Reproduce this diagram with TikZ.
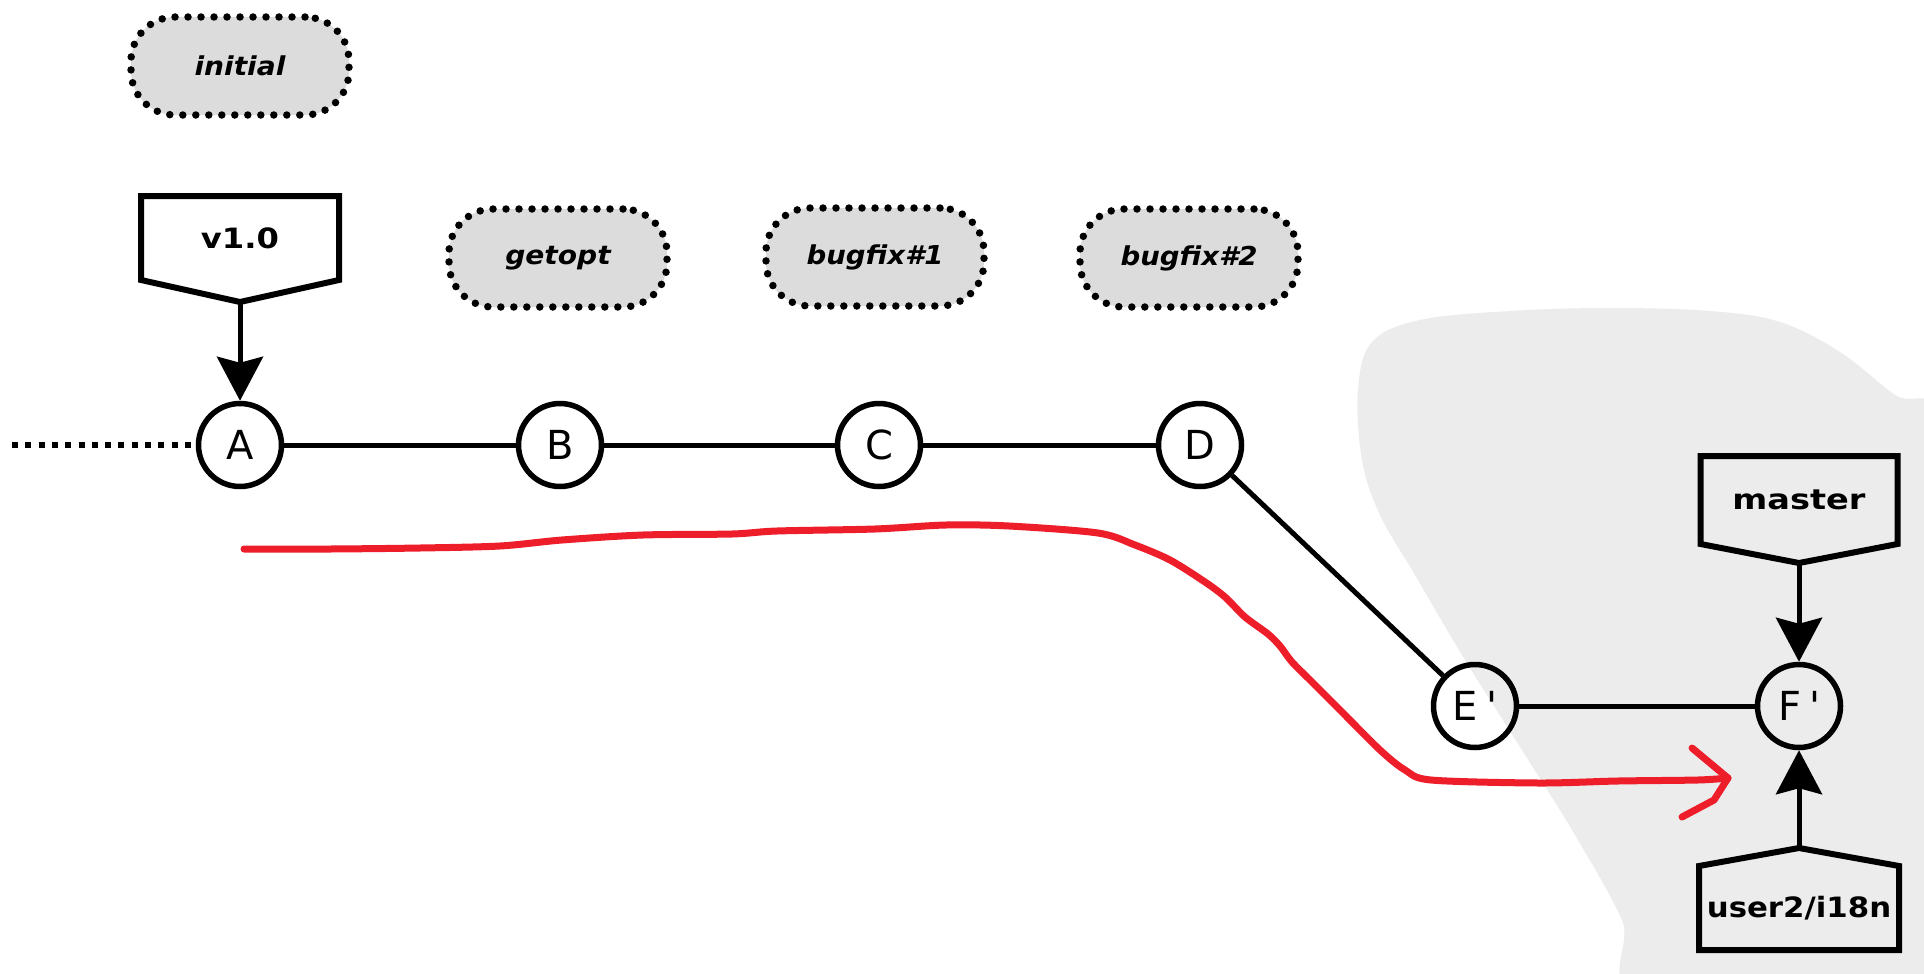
\documentclass[tikz,border=0pt]{standalone}
\usepackage{fontspec}
\usepackage{graphicx}
\usetikzlibrary{arrows.meta,calc}
\newfontfamily\djv{DejaVu Sans}
\definecolor{blobgray}{HTML}{ECECEC}
\definecolor{boxgray}{HTML}{DCDCDC}
\definecolor{penred}{HTML}{EE1D2A}
\tikzset{
 commit/.style={circle, draw, line width=5.5pt, minimum size=83pt, inner sep=0pt, font=\djv\fontsize{40}{48}\selectfont},
 conn/.style={line width=5pt},
 dotline/.style={line width=6.5pt, dash pattern=on 6pt off 7.3pt},
 labelbox/.style={draw, line width=7.5pt, dash pattern=on 0pt off 13pt, line cap=round, fill=boxgray, rounded corners=44pt, minimum width=218pt, minimum height=98pt, inner sep=0pt, font=\djv\bfseries\itshape\fontsize{26}{30}\selectfont},
 tagtext/.style={inner sep=0pt, outer sep=0pt, font=\djv\bfseries\fontsize{28}{32}\selectfont},
 tagline/.style={line width=6pt, line join=miter},
 tagarrow/.style={line width=5pt, -{Stealth[length=44pt,width=46pt,inset=6pt]}},
 penline/.style={penred, line width=7pt, line cap=round, line join=round},
}
\begin{document}
\begin{tikzpicture}[x=1pt,y=-1pt]
\useasboundingbox (0,0) rectangle (1924,974);
\fill[white] (0,0) rectangle (1924,974);
\begin{scope}
\clip (0,0) rectangle (1924,974);
\fill[blobgray] plot[smooth cycle, tension=0.6] coordinates {(1358,390) (1372,342) (1420,320) (1510,311) (1610,308) (1710,311) (1780,322) (1840,352) (1895,395) (1950,430) (1960,700) (1960,1000) (1650,1000) (1622,920) (1575,835) (1522,750) (1465,660) (1415,575) (1380,515) (1362,460)};
\end{scope}

% label boxes
\node[labelbox] (initial) at (240,66) {\scalebox{1.08}[1]{initial}};
\node[labelbox] (getopt) at (558,258) {\scalebox{1.08}[1]{getopt}};
\node[labelbox] (bug1) at (875,257) {\scalebox{1.06}[1]{bugfix\#1}};
\node[labelbox] (bug2) at (1189,258) {\scalebox{1.06}[1]{bugfix\#2}};

% commits
\node[commit] (A) at (240,445) {A};
\node[commit] (B) at (560,445) {B};
\node[commit] (C) at (879,445) {C};
\node[commit] (D) at (1200,445) {D};
\node[commit] (Ep) at (1475,706) {E\hspace{8pt}'};
\node[commit] (Fp) at (1799,706) {F\hspace{8pt}'};

\coordinate (start) at (12,445);
\draw[dotline] (start) -- (A);
\draw[conn] (A) -- (B);
\draw[conn] (B) -- (C);
\draw[conn] (C) -- (D);
\draw[conn] (D) -- (Ep);
\draw[conn] (Ep) -- (Fp);

% tags
\node[tagtext, minimum width=198pt, minimum height=84pt] (v10) at (240,238) {\scalebox{1.15}[1]{v1.0}};
\draw[tagline] (v10.north west) -- (v10.north east) -- (v10.south east) -- ($(v10.south)+(0,22)$) coordinate (v10p) -- (v10.south west) -- cycle;
\draw[tagarrow] (v10p) -- (A);

\node[tagtext, minimum width=197pt, minimum height=88pt] (master) at (1799,500) {\scalebox{1.2}[1]{master}};
\draw[tagline] (master.north west) -- (master.north east) -- (master.south east) -- ($(master.south)+(0,19)$) coordinate (mp) -- (master.south west) -- cycle;
\draw[tagarrow] (mp) -- (Fp);

\node[tagtext, minimum width=200pt, minimum height=84pt] (u2) at (1799,908) {\scalebox{1.1}[1]{user2/i18n}};
\draw[tagline] (u2.south west) -- (u2.south east) -- (u2.north east) -- ($(u2.north)+(0,-18)$) coordinate (up) -- (u2.north west) -- cycle;
\draw[tagarrow] (up) -- (Fp);

% red hand-drawn arrow
\draw[penline] plot[smooth, tension=0.5] coordinates {(244,549) (330,549) (420,548) (500,546) (562,540) (643,535) (732,534) (777,531) (875,529) (946,525) (1009,526) (1098,533) (1135,545) (1170,560) (1205,582) (1225,597) (1245,617) (1268,634) (1280,646) (1292,662) (1312,682) (1340,710) (1380,750) (1405,770) (1431,780) (1539,783) (1618,781) (1698,780) (1728,778)};
\draw[penline] (1692,748) -- (1728,778) -- (1714,800) -- (1682,817);
\end{tikzpicture}
\end{document}
